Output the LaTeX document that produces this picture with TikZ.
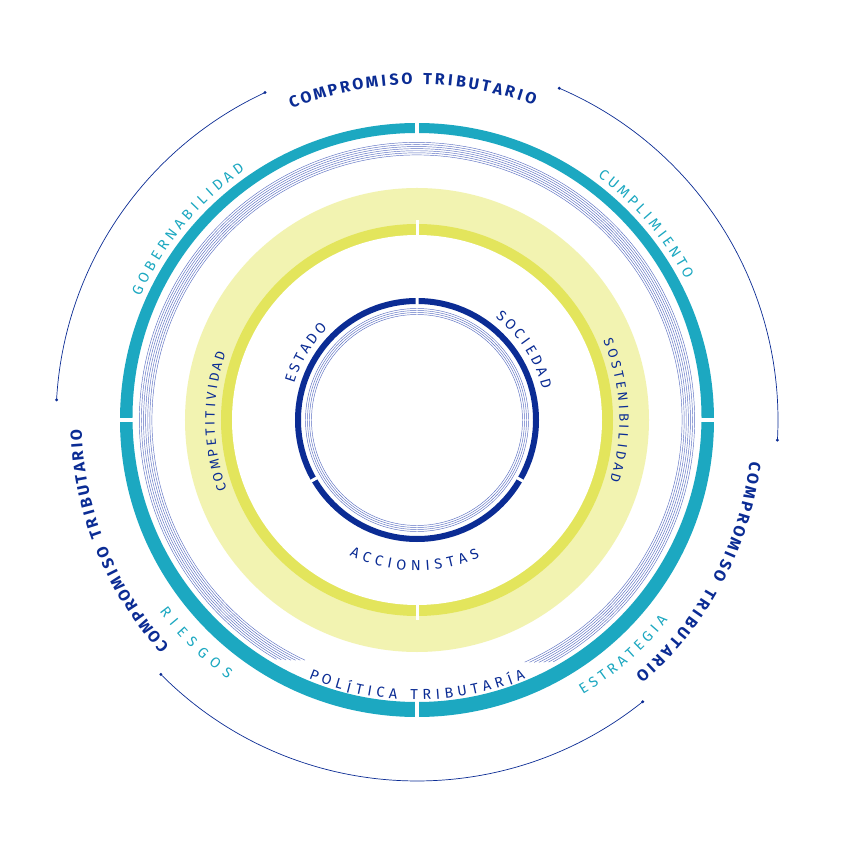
\documentclass[tikz,border=0pt]{standalone}
\usepackage{fontspec}
\newfontfamily\fira{Fira Sans}
\usetikzlibrary{decorations.text}
\definecolor{navy}{HTML}{0B2C94}
\definecolor{teal2}{HTML}{1CA8C1}
\definecolor{ysolid}{HTML}{E3E55C}
\definecolor{ylight}{HTML}{F2F3B1}
\definecolor{thinb}{HTML}{5C70C2}
\newcommand\ctext[6]{%
 \path[decorate, decoration={text effects along path, text={#6}, text effects/.cd, fit text to path, every character/.style={font=#4, text=#5, transform shape}}] (#2:#1) arc[start angle=#2, end angle=#3, radius=#1];}
\tikzset{thinline/.style={draw=thinb, line width=0.45pt}, gapline/.style={draw=white, line width=4pt}}
\begin{document}
\begin{tikzpicture}[x=1pt,y=1pt]
\useasboundingbox[fill=white] (-417,-430) rectangle (433,420);
% light yellow band
\fill[ylight] (0,0) circle[radius=232];
\fill[ysolid] (0,0) circle[radius=196];
\fill[white] (0,0) circle[radius=185];
\draw[gapline,line width=3pt] (0,180) -- (0,200) (0,-180) -- (0,-200);
% teal ring (eccentric)
\fill[teal2, even odd rule] (0,0) circle[radius=297] (0,2.5) circle[radius=284.5];
\draw[gapline] (0,275) -- (0,305) (0,-275) -- (0,-305) (275,0) -- (305,0) (-275,0) -- (-305,0);
% thin lines
\foreach \i in {0,...,6}{
  \draw[thinline] (-66+\i*0.9:265+\i*2.1) arc[start angle=-66+\i*0.9, end angle=245-\i*0.9, radius=265+\i*2.1];
}
% dark blue ring
\draw[navy, line width=6pt] (0,0) circle[radius=119];
\draw[gapline,line width=3pt] (90:112) -- (90:126) (210:112) -- (210:126) (330:112) -- (330:126);
\foreach \r in {105.5,107.5,109.5,111.5}{\draw[thinline] (0,0) circle[radius=\r];}
% outer circle
\draw[navy, line width=0.7pt] (114.9:361) arc[start angle=114.9, end angle=176.8, radius=361];
\draw[navy, line width=0.7pt] (224.8:361) arc[start angle=224.8, end angle=308.7, radius=361];
\draw[navy, line width=0.7pt] (-3.2:361) arc[start angle=-3.2, end angle=66.8, radius=361];
\foreach \a in {114.9,176.8,224.8,308.7,-3.2,66.8}{\fill[navy] (\a:361) circle[radius=1.6];}
% texts
\def\fb{\fira\bfseries\fontsize{16}{16}\selectfont}
\def\fr{\fira\fontsize{14.5}{14.5}\selectfont}
\def\fs{\fira\fontsize{13.5}{13.5}\selectfont}
\ctext{341}{112.5}{69}{\fb}{navy}{COMPROMISO TRIBUTARIO}
\ctext{341}{-6.5}{-50}{\fb}{navy}{COMPROMISO TRIBUTARIO}
\ctext{341}{223}{181}{\fb}{navy}{COMPROMISO TRIBUTARIO}
\ctext{308}{156.5}{124}{\fr}{teal2}{GOBERNABILIDAD}
\ctext{308}{54}{27}{\fr}{teal2}{CUMPLIMIENTO}
\ctext{316}{216}{234.5}{\fr}{teal2}{RIESGOS}
\ctext{316}{-59.5}{-38}{\fr}{teal2}{ESTRATEGIA}
\ctext{275}{246.5}{293.5}{\fr}{navy}{POLÍTICA TRIBUTARÍA}
\ctext{207}{201}{160}{\fs}{navy}{COMPETITIVIDAD}
\ctext{207}{24}{-18.5}{\fs}{navy}{SOSTENIBILIDAD}
\ctext{133}{165}{133}{\fr}{navy}{ESTADO}
\ctext{134}{54}{12.5}{\fr}{navy}{SOCIEDAD}
\ctext{146}{242}{296}{\fr}{navy}{ACCIONISTAS}
\end{tikzpicture}
\end{document}
